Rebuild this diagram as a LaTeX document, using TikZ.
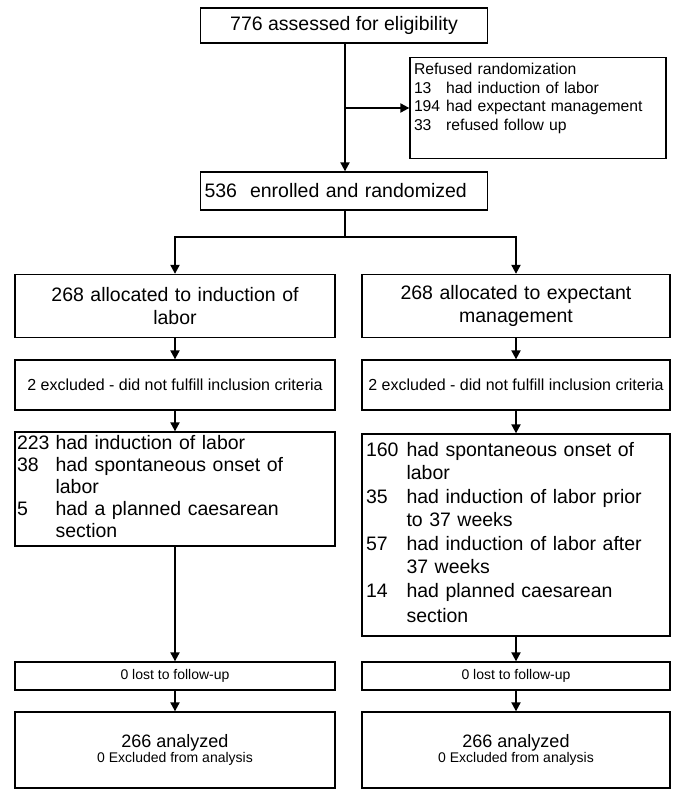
\documentclass[tikz,border=0pt]{standalone}
\usepackage{fontspec}
\setmainfont{Liberation Sans}
\usetikzlibrary{arrows.meta}
\begin{document}
\begin{tikzpicture}[
  x=1pt, y=-1pt,
  box/.style={draw, line width=1.3pt, inner sep=4pt},
  big/.style={font=\fontsize{19.5}{23}\selectfont},
  small/.style={font=\fontsize{16}{19}\selectfont},
  flow/.style={line width=2pt, -{Triangle[length=9pt,width=9pt]}}]

  \useasboundingbox (0,0) rectangle (681,800);

  % top part
  \node[box, big, minimum width=287, minimum height=35] (assess) at (344,25.5) {776 assessed for eligibility};
  \node[box, font=\fontsize{15.7}{18.5}\selectfont, minimum width=256, minimum height=92, text width=248, align=left] (refuse) at (538,108)
    {\begin{tabular}{@{}l@{\hspace{6pt}}l@{}}
     \multicolumn{2}{@{}l}{Refused randomization}\\
     13 & had induction of labor\\
     194 & had expectant management\\
     33 & refused follow up\\
     \multicolumn{2}{l}{}
     \end{tabular}};
  \node[box, big, minimum width=287, minimum height=38, text width=279, align=left] (enrol) at (344,191) {536\ \ enrolled and randomized};
  \coordinate (branch) at (345,108);
  \coordinate (split) at (345,237);
  \draw[line width=2pt] (assess.south -| branch) -- (branch);
  \draw[flow] (branch) -- (enrol.north -| branch);
  \draw[flow] (branch) -- (refuse.west |- branch);

  % two arms
  \node[box, big, minimum width=320, minimum height=63, text width=312, align=center] (allocL) at (175,306) {268 allocated to induction of\\labor};
  \node[box, big, minimum width=308, minimum height=63, text width=300, align=center] (allocR) at (516,306) {268 allocated to expectant\\management};
  \node[box, small, minimum width=320, minimum height=50] (exclL) at (175,385) {2 excluded - did not fulfill inclusion criteria};
  \node[box, small, minimum width=308, minimum height=50] (exclR) at (516,385) {2 excluded - did not fulfill inclusion criteria};
  \node[box, font=\fontsize{19.5}{22}\selectfont, inner sep=2pt, minimum width=320, minimum height=110, text width=316, align=left] (gotL) at (175,489)
    {\begin{tabular}{@{}l@{\hspace{6pt}}l@{}}
     223 & had induction of labor\\
     38 & had spontaneous onset of\\
        & labor\\
     5 & had a planned caesarean\\
       & section
     \end{tabular}};
  \node[box, font=\fontsize{19.5}{23.5}\selectfont, minimum width=308, minimum height=202, text width=300, align=left] (gotR) at (516,535)
    {\begin{tabular}{@{}l@{\hspace{8pt}}l@{}}
     160 & had spontaneous onset of\\
         & labor\\
     35 & had induction of labor prior\\
        & to 37 weeks\\
     57 & had induction of labor after\\
        & 37 weeks\\
     14 & had planned caesarean\\[2pt]
        & section
     \end{tabular}};
  \node[box, font=\fontsize{14}{17}\selectfont, minimum width=320, minimum height=28] (lostL) at (175,676) {0 lost to follow-up};
  \node[box, font=\fontsize{14}{17}\selectfont, minimum width=308, minimum height=28] (lostR) at (516,676) {0 lost to follow-up};
  \node[box, minimum width=320, minimum height=76, align=center] (anaL) at (175,750)
    {{\fontsize{18}{21}\selectfont 266 analyzed}\\{\fontsize{14}{16}\selectfont 0 Excluded from analysis}};
  \node[box, minimum width=308, minimum height=76, align=center] (anaR) at (516,750)
    {{\fontsize{18}{21}\selectfont 266 analyzed}\\{\fontsize{14}{16}\selectfont 0 Excluded from analysis}};

  \draw[line width=2pt] (enrol.south -| split) -- (split);
  \draw[flow] (split) -| (allocL.north);
  \draw[flow] (split) -| (allocR.north);
  \foreach \a/\b in {allocL/exclL,exclL/gotL,gotL/lostL,lostL/anaL,
                     allocR/exclR,exclR/gotR,gotR/lostR,lostR/anaR}
    \draw[flow] (\a) -- (\b);
\end{tikzpicture}
\end{document}
